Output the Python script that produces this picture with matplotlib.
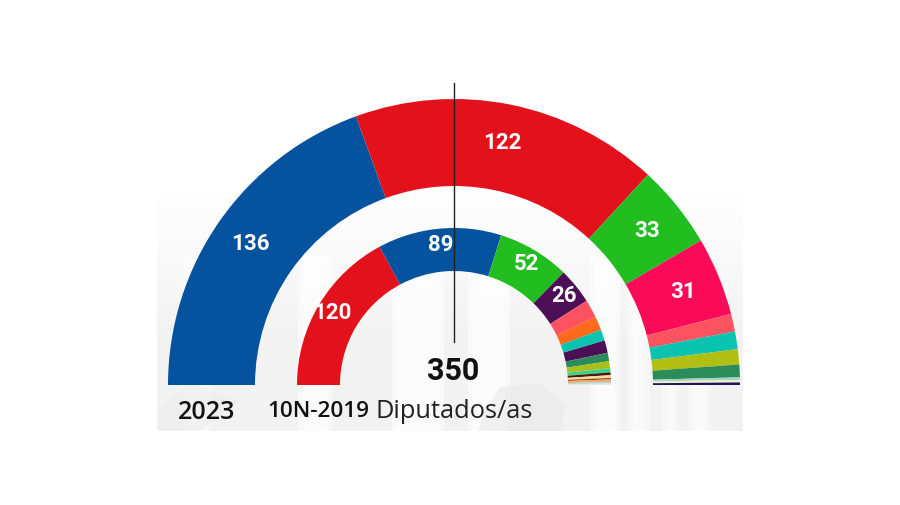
#!/usr/bin/env python
# coding: utf-8
# Hemicycle chart, 2023 seats around the 10N-2019 seats
import numpy as np
import matplotlib
matplotlib.use("Agg")
import matplotlib.pyplot as plt
from matplotlib.patches import Rectangle, Polygon

total_seats = 350

seats_2023 = [136, 122, 33, 31, 7, 7, 6, 5, 1, 1, 1]
colors_2023 = ['#05529f', '#e2111b', '#22bd1e', '#fb0a57', '#fd5360', '#0bc4af',
               '#b1bf14', '#2b8c5a', '#9fd4c8', '#f6ecc0', '#1d1464']
labels_2023 = ['136', '122', '33', '31']

seats_2019 = [120, 89, 52, 26, 13, 10, 8, 9, 6, 5, 3, 2, 2, 1, 2, 1, 1]
colors_2019 = ['#e2111b', '#05529f', '#22bd1e', '#4c0f57', '#fd5360', '#fd6a1c',
               '#0bc4af', '#4c0f57', '#2b8c5a', '#a9c01c', '#3fd08a', '#4a1a10',
               '#fbd79a', '#8a3a12', '#f2a96a', '#a5dbe0', '#dcecef']
labels_2019 = ['120', '89', '52', '26']

fig = plt.figure(figsize=(9, 5.06), dpi=100, facecolor='white')
ax = fig.add_axes([0, 0, 1, 1])

# faded photo behind the chart, only suggested
fade = np.ones((60, 2, 4))
fade[:, :, :3] = 0.95
fade[:, :, 3] = np.clip(np.linspace(0, 1.5, 60), 0, 1)[:, None]
ax.imshow(fade, extent=(157, 743, 74, 320), aspect='auto', zorder=0)
# columns, drawn twice so the edges look soft
for x0, w, a in [(182, 30, 0.35), (298, 34, 0.5), (392, 52, 0.55), (468, 42, 0.6),
                 (590, 30, 0.5), (628, 22, 0.45), (662, 16, 0.45), (688, 22, 0.45)]:
    ax.add_patch(Rectangle((x0, 74), w, 175, fc='white', ec='none', alpha=a, zorder=0.5))
    ax.add_patch(Rectangle((x0 + 5, 74), w - 10, 175, fc='white', ec='none', alpha=a, zorder=0.5))
# statues at the bottom
ax.add_patch(Polygon([(158, 74), (200, 74), (240, 104), (190, 122), (158, 96)],
                     fc='#ececec', ec='none', alpha=0.6, zorder=0.6))
ax.add_patch(Polygon([(478, 74), (560, 74), (566, 100), (540, 122), (500, 118), (486, 96)],
                     fc='#e8e8e8', ec='none', alpha=0.6, zorder=0.6))

center = (454, 120)
w_out, _ = ax.pie(seats_2023 + [total_seats], colors=colors_2023 + ['none'], startangle=180,
                  counterclock=False, radius=286, center=center, frame=True,
                  wedgeprops=dict(width=87, linewidth=0))
w_in, _ = ax.pie(seats_2019 + [total_seats], colors=colors_2019 + ['none'], startangle=180,
                 counterclock=False, radius=157, center=center, frame=True,
                 wedgeprops=dict(width=43, linewidth=0))


def put_labels(wedges, labels, r):
    for wedge, label in zip(wedges, labels):
        ang = np.radians((wedge.theta1 + wedge.theta2) / 2)
        ax.text(center[0] + r * np.cos(ang), center[1] + r * np.sin(ang), label, color='white',
                fontsize=16, fontweight='bold', family='Roboto', ha='center', va='center',
                zorder=5)


put_labels(w_out, labels_2023, 248)
put_labels(w_in, labels_2019, 142)

ax.plot([454, 454], [163, 422], color='#222222', lw=1, zorder=4)

ax.text(453, 135, str(total_seats), fontsize=22, fontweight='bold', family='Roboto',
        ha='center', va='center', color='#111111')
ax.text(207, 93, '2023', fontsize=18, fontweight='semibold', family='Open Sans',
        ha='center', va='center', color='#111111')
ax.text(267, 94, '10N-2019', fontsize=16.2, fontweight='semibold', family='Open Sans',
        ha='left', va='center', color='#111111')
ax.text(375, 94, 'Diputados/as', fontsize=18.3, family='Open Sans',
        ha='left', va='center', color='#222222')

ax.set_xlim(0, 900)
ax.set_ylim(0, 506)
ax.set_xticks([])
ax.set_yticks([])
ax.axis('off')
fig.savefig('out.png', dpi=100)
